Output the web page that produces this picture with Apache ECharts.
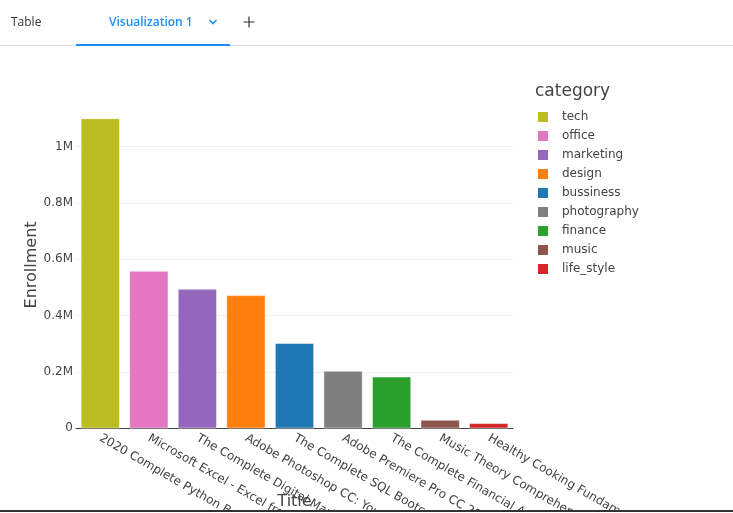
<!DOCTYPE html>
<html>
<head>
<meta charset="utf-8">
<script src="https://cdn.jsdelivr.net/npm/echarts@6/dist/echarts.min.js"></script>
<style>
  html, body { margin: 0; padding: 0; background: #fff; width: 733px; height: 513px; overflow: hidden; position: relative; }
  #tabs { position: absolute; left: 0; top: 0; width: 733px; height: 47px; font-family: "Open Sans", sans-serif; font-size: 12px; }
  #tabs .t { position: absolute; top: 14px; line-height: 16px; white-space: nowrap; }
  #chart { position: absolute; left: 0; top: 0; width: 733px; height: 510px; }
  #bottomline { position: absolute; left: 0; top: 510px; width: 733px; height: 2px; background: #333; }
</style>
</head>
<body>
<div id="chart"></div>
<div id="tabs">
  <div class="t" style="left:11px;color:#333;">Table</div>
  <div class="t" style="left:109px;color:#1890ff;font-weight:600;">Visualization 1</div>
  <svg style="position:absolute;left:208px;top:18px" width="10" height="8"><path d="M1.5 2 L5 5.5 L8.5 2" stroke="#1890ff" stroke-width="1.6" fill="none"/></svg>
  <svg style="position:absolute;left:243px;top:16px" width="12" height="12"><path d="M6 0.5 V11.5 M0.5 6 H11.5" stroke="#333" stroke-width="1.2" fill="none"/></svg>
  <div style="position:absolute;left:0;top:45px;width:733px;height:1px;background:#dcdcdc;"></div>
  <div style="position:absolute;left:76px;top:44px;width:154px;height:2px;background:#1890ff;"></div>
</div>
<div id="bottomline"></div>
<script>
const categories = [
  "2020 Complete Python Bootcamp: From Zero to Hero in Python",
  "Microsoft Excel - Excel from Beginner to Advanced",
  "The Complete Digital Marketing Course - 12 Courses in 1",
  "Adobe Photoshop CC: Your Complete Beginner to Advanced Class",
  "The Complete SQL Bootcamp 2020: Go from Zero to Hero",
  "Adobe Premiere Pro CC 2020: Video Editing for Beginners",
  "The Complete Financial Analyst Course 2020",
  "Music Theory Comprehensive Complete: Part 1, 2, 3",
  "Healthy Cooking Fundamentals"
];
const groups = ["tech", "office", "marketing", "design", "bussiness", "photography", "finance", "music", "life_style"];
const enrollment = [1100000, 558600, 494700, 472000, 302000, 203500, 183000, 29500, 17800];
const colors = ["#bcbd22", "#e377c2", "#9467bd", "#ff7f0e", "#1f77b4", "#7f7f7f", "#2ca02c", "#8c564b", "#d62728"];

const chart = echarts.init(document.getElementById('chart'), null, { renderer: 'canvas' });
const font = "DejaVu Sans";
const option = {
  animation: false,
  grid: { left: 76, right: 220, top: 101.6, bottom: 81.7, containLabel: false, outerBoundsMode: 'none' },
  legend: {
    orient: 'vertical', left: 536, top: 110, padding: 0,
    itemWidth: 12, itemHeight: 12, itemGap: 5, icon: 'rect',
    data: groups,
    textStyle: { color: '#444', fontSize: 12, fontFamily: font, padding: [0, 0, 0, 8] }
  },
  graphic: [{
    type: 'text', left: 535, top: 83,
    style: { text: 'category', fill: '#444', font: '17px "DejaVu Sans"' }
  }],
  xAxis: {
    type: 'category', data: categories,
    name: 'Title', nameLocation: 'middle', nameGap: 66, nameMoveOverlap: false,
    nameTextStyle: { color: '#444', fontSize: 16, fontFamily: font },
    axisLine: { show: true, lineStyle: { color: '#444', width: 1 } },
    axisTick: { show: false },
    axisLabel: { rotate: -30, interval: 0, color: '#444', fontSize: 12, fontFamily: font, margin: 9 }
  },
  yAxis: {
    type: 'value', min: 0, max: 1160000, interval: 200000,
    name: 'Enrollment', nameLocation: 'middle', nameGap: 36, nameMoveOverlap: false,
    nameTextStyle: { color: '#444', fontSize: 16, fontFamily: font },
    axisLine: { show: false }, axisTick: { show: false },
    splitLine: { show: true, showMaxLine: false, lineStyle: { color: '#eeeeee', width: 1 } },
    axisLabel: {
      showMaxLabel: false, color: '#444', fontSize: 12, fontFamily: font, margin: 3,
      formatter: v => v === 0 ? '0' : (v / 1e6) + 'M'
    }
  },
  series: groups.map((g, i) => ({
    name: g, type: 'bar', stack: 'all', barCategoryGap: '20%',
    data: categories.map((c, j) => j === i ? enrollment[i] : null),
    itemStyle: { color: colors[i], borderColor: '#ffffff', borderWidth: 0.5 }
  }))
};
chart.setOption(option);
</script>
</body>
</html>
